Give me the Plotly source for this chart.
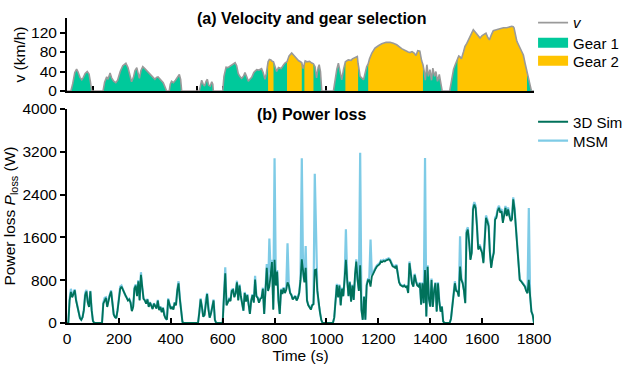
import plotly.graph_objects as go

# ---------------- data ----------------
# Vehicle speed profile (km/h) at breakpoint times (s)
vel_t = [0, 15, 22, 30, 37, 42, 50, 57, 63, 70, 78, 85, 90, 95,
         139, 145, 153, 158, 166, 172, 180, 188, 195, 205, 215, 227, 235, 242, 249, 256,
         262, 269, 275, 279, 285, 292, 300, 308, 314, 322, 330, 339, 345, 351, 358, 365,
         371, 378, 384,
         394, 398, 403, 410, 418, 425, 433, 438, 442,
         510, 514, 519, 525, 530, 536, 541, 546, 552, 558, 562, 564,
         600, 605, 613, 620, 630, 640, 648, 654, 660, 666, 673, 680, 686, 692, 699, 705,
         712, 720, 731, 740, 750, 756, 763, 768, 775, 780, 786, 791, 796, 802, 808, 815,
         825, 835, 841, 848, 856, 866, 875, 885, 893, 900, 905, 910, 915, 918, 925, 935,
         942, 950, 956, 962, 968, 972, 977, 982,
         1027, 1034, 1040, 1046, 1052, 1059, 1066, 1073, 1084, 1095, 1100, 1110, 1119, 1122,
         1130, 1143, 1150, 1155, 1161, 1166, 1175, 1187, 1200, 1213, 1230, 1245, 1258, 1271,
         1290, 1303, 1315, 1322, 1330, 1338, 1345, 1352, 1360, 1367, 1372, 1377, 1381, 1387,
         1393, 1399, 1405, 1410, 1417, 1422, 1428, 1435, 1441, 1446,
         1475, 1482, 1490, 1497, 1505, 1510, 1515, 1520, 1528, 1534, 1541, 1554, 1566, 1575,
         1585, 1592, 1600, 1607, 1615, 1622, 1628, 1636, 1643, 1655, 1669, 1682, 1695, 1705,
         1714, 1720, 1723, 1734, 1746, 1759, 1766, 1773, 1778, 1785, 1790, 1800]
vel_kmh = [0, 0, 15, 38, 45, 40, 28, 23, 28, 36, 40, 35, 20, 0,
           0, 18, 29, 24, 37, 27, 20, 17, 22, 40, 52, 57, 48, 30, 19, 28,
           42, 48, 35, 26, 42, 50, 46, 42, 38, 34, 29, 24, 28, 29, 25, 22,
           17, 8, 0,
           0, 14, 20, 17, 22, 27, 34, 24, 0,
           0, 14, 22, 14, 10, 20, 24, 12, 10, 19, 14, 0,
           0, 30, 49, 48, 51, 55, 58, 52, 36, 30, 26, 30, 38, 30, 20, 24,
           28, 38, 44, 43, 46, 38, 24, 35, 60, 65, 64, 61, 60, 50, 40, 48,
           46, 54, 58, 60, 72, 78, 72, 66, 62, 60, 58, 46, 56, 62, 60, 61,
           58, 56, 50, 27, 48, 54, 40, 0,
           0, 30, 45, 57, 40, 23, 45, 60, 64, 63, 66, 68, 71, 56,
           30, 23, 40, 50, 56, 66, 78, 88, 93, 97, 100, 100, 98, 95,
           87, 83, 80, 79, 81, 78, 73, 83, 82, 62, 54, 40, 22, 54,
           30, 44, 22, 47, 30, 40, 20, 34, 12, 0,
           0, 25, 45, 55, 68, 72, 70, 66, 80, 92, 98, 112, 126, 120,
           112, 109, 114, 116, 119, 110, 105, 116, 124, 126, 128, 130, 130, 131,
           133, 132, 130, 102, 88, 74, 56, 37, 26, 12, 0, 0]

# Periods driven in gear 2 (s); the rest of the driving is in gear 1
gear2_start = [775, 848, 915, 1073, 1161, 1505]
gear2_end = [796, 905, 950, 1122, 1372, 1773]

# Power loss (W), sampled every 5 s from 0 to 1800 s
time_s = list(range(0, 1801, 5))
sim_loss = [
    0, 0, 420, 580, 480, 540, 610, 420, 300, 200, 90, 60, 110, 240, 520, 590, 380, 300, 590, 240,
    40, 0, 0, 0, 0, 0, 0, 0, 360, 430, 470, 300, 430, 520, 590, 380, 160, 110, 90, 240,
    520, 640, 680, 620, 560, 500, 470, 420, 440, 380, 220, 300, 640, 700, 500, 780, 420, 900, 640, 450,
    420, 360, 440, 300, 380, 330, 260, 360, 300, 270, 420, 240, 300, 200, 280, 140, 90, 60, 440, 340,
    260, 300, 250, 380, 330, 600, 740, 450, 200, 20, 0, 0, 0, 0, 0, 0, 0, 0, 0, 0,
    0, 0, 200, 440, 300, 120, 150, 420, 540, 250, 100, 180, 300, 420, 60, 0, 0, 0, 0, 0,
    0, 500, 930, 330, 380, 440, 410, 600, 620, 480, 560, 760, 420, 700, 500, 380, 230, 560, 400, 520,
    330, 170, 420, 520, 380, 810, 500, 470, 380, 450, 470, 640, 170, 520, 1030, 600, 680, 900, 1140, 250,
    1180, 700, 960, 420, 170, 620, 540, 650, 560, 620, 760, 700, 560, 520, 440, 470, 500, 420, 470, 560,
    800, 1190, 900, 760, 1030, 420, 330, 300, 250, 330, 350, 990, 1000, 600, 350, 200, 60, 0, 0, 0,
    0, 0, 0, 0, 0, 0, 100, 500, 710, 480, 700, 330, 640, 500, 780, 1180, 800, 500, 760, 400,
    700, 430, 900, 1150, 800, 600, 1080, 240, 60, 490, 60, 700, 800, 800, 680, 870, 920, 990, 1020, 1060,
    1086, 1100, 1150, 1140, 1160, 1150, 1170, 1180, 1190, 1170, 1120, 1060, 1050, 1030, 1070, 900, 760, 710, 700, 680,
    700, 670, 680, 560, 1118, 900, 740, 680, 900, 780, 700, 680, 740, 340, 740, 370, 990, 120, 1050, 450,
    306, 805, 300, 600, 743, 212, 743, 400, 212, 306, 30, 0, 0, 0, 0, 0, 80, 300, 400, 743,
    600, 587, 493, 1055, 805, 743, 600, 369, 1685, 1748, 1500, 1180, 1311, 2122, 2216, 2150, 1810, 1373, 1436, 1380,
    1311, 1118, 1555, 1966, 1900, 1810, 1311, 1030, 1200, 1311, 1935, 1966, 2100, 2153, 2060, 2091, 1873, 2000, 2153, 1998,
    2122, 2000, 1904, 1935, 2310, 2122, 1800, 1555, 1249, 805, 780, 740, 712, 680, 600, 556, 805, 493, 212, 150,
    0]
msm_loss = [
    0, 0, 440, 640, 500, 560, 630, 440, 310, 210, 90, 60, 110, 250, 560, 620, 400, 310, 600, 250,
    40, 0, 0, 0, 0, 0, 0, 0, 380, 470, 480, 310, 450, 540, 610, 390, 170, 110, 90, 250,
    540, 680, 700, 630, 570, 510, 480, 430, 450, 390, 230, 310, 660, 720, 510, 800, 430, 950, 660, 460,
    430, 370, 450, 310, 390, 340, 270, 370, 310, 280, 430, 250, 310, 210, 290, 150, 90, 60, 460, 350,
    270, 310, 260, 390, 340, 620, 780, 460, 210, 20, 0, 0, 0, 0, 0, 0, 0, 0, 0, 0,
    0, 0, 210, 460, 310, 120, 150, 440, 560, 260, 100, 180, 310, 440, 60, 0, 0, 0, 0, 0,
    0, 520, 1040, 340, 390, 450, 420, 620, 640, 490, 570, 790, 430, 720, 510, 390, 230, 580, 410, 540,
    340, 170, 430, 540, 390, 880, 510, 480, 390, 460, 480, 660, 170, 540, 1100, 620, 1580, 940, 1180, 260,
    3080, 720, 990, 430, 170, 640, 550, 670, 570, 640, 1490, 720, 570, 530, 450, 480, 510, 430, 480, 570,
    820, 3080, 920, 780, 1440, 430, 340, 310, 260, 340, 360, 2790, 1310, 610, 360, 200, 60, 0, 0, 0,
    0, 0, 0, 0, 0, 0, 100, 520, 730, 490, 720, 340, 660, 510, 800, 1750, 820, 510, 780, 410,
    720, 440, 930, 1190, 820, 610, 3180, 250, 60, 500, 60, 720, 820, 820, 1560, 890, 940, 1010, 1040, 1080,
    1100, 1120, 1170, 1160, 1180, 1170, 1190, 1200, 1210, 1190, 1140, 1080, 1070, 1050, 1090, 920, 770, 720, 710, 690,
    710, 680, 690, 570, 1150, 920, 750, 690, 920, 800, 710, 690, 760, 350, 760, 380, 3085, 120, 1080, 460,
    310, 830, 310, 620, 760, 220, 760, 410, 220, 310, 30, 0, 0, 0, 0, 0, 80, 310, 420, 780,
    620, 600, 500, 1620, 830, 760, 610, 380, 1730, 1790, 1530, 1200, 1340, 2170, 2260, 2190, 1850, 1400, 1470, 1410,
    1340, 1140, 1590, 2010, 1940, 1850, 1340, 1050, 1220, 1340, 1970, 2000, 2140, 2190, 2100, 2130, 1910, 2040, 2190, 2040,
    2160, 2040, 1940, 1970, 2350, 2160, 1840, 1590, 1270, 820, 790, 750, 720, 690, 610, 560, 2150, 500, 220, 150,
    0]

vel_ticks = [0, 40, 80, 120]
loss_ticks = [0, 800, 1600, 2400, 3200, 4000]
time_ticks = list(range(0, 1801, 200))
time_minor = list(range(0, 1801, 100))

# ---------------- style ----------------
FONT = "Liberation Sans, Arial, Helvetica, sans-serif"
C_GEAR1 = "#00C99B"
C_GEAR2 = "#FFC400"
C_V = "#9A9A9A"
C_SIM = "#00715A"
C_MSM = "#7ECBE6"

# gear-2 patches: one closed polygon per period, separated by gaps
g2x, g2y = [], []
for s, e in zip(gear2_start, gear2_end):
    i0, i1 = vel_t.index(s), vel_t.index(e)
    g2x += [s] + vel_t[i0:i1 + 1] + [e, None]
    g2y += [0] + vel_kmh[i0:i1 + 1] + [0, None]

fig = go.Figure()
fig.add_trace(go.Scatter(x=vel_t, y=vel_kmh, xaxis="x2", yaxis="y2", mode="lines",
                         fill="tozeroy", fillcolor=C_GEAR1, line=dict(width=0, color=C_GEAR1),
                         showlegend=False, hoverinfo="skip"))
fig.add_trace(go.Scatter(x=g2x, y=g2y, xaxis="x2", yaxis="y2", mode="lines",
                         fill="toself", fillcolor=C_GEAR2, line=dict(width=0, color=C_GEAR2),
                         showlegend=False, hoverinfo="skip"))
fig.add_trace(go.Scatter(x=vel_t, y=vel_kmh, xaxis="x2", yaxis="y2", mode="lines",
                         line=dict(color=C_V, width=1.6), name="<i>v</i>", legend="legend"))
# legend keys for the two gear areas (solid blocks)
fig.add_trace(go.Scatter(x=[None], y=[None], xaxis="x2", yaxis="y2", mode="lines",
                         line=dict(color=C_GEAR1, width=11), name="Gear 1", legend="legend3"))
fig.add_trace(go.Scatter(x=[None], y=[None], xaxis="x2", yaxis="y2", mode="lines",
                         line=dict(color=C_GEAR2, width=11), name="Gear 2", legend="legend4"))
fig.add_trace(go.Scatter(x=time_s, y=msm_loss, mode="lines",
                         line=dict(color=C_MSM, width=2.2), name="MSM", legend="legend5"))
fig.add_trace(go.Scatter(x=time_s, y=sim_loss, mode="lines",
                         line=dict(color=C_SIM, width=1.8), name="3D Sim", legend="legend2"))


def key(ypos):
    return dict(x=0.998, y=ypos, xanchor="left", yanchor="middle",
                bgcolor="rgba(0,0,0,0)", font=dict(size=15))


axis_common = dict(showline=True, linewidth=2, linecolor="black", showgrid=False,
                   zeroline=False, tickcolor="black", tickwidth=2, ticklen=5,
                   tickfont=dict(size=15.5), automargin=False)
TITLE_FONT = dict(size=15.5)

fig.update_layout(
    width=624, height=366,
    margin=dict(l=67, r=90, t=18, b=43, autoexpand=False),
    paper_bgcolor="white", plot_bgcolor="white",
    font=dict(family=FONT, size=15.5, color="black"),
    showlegend=True,
    legend=key(0.984), legend3=key(0.918), legend4=key(0.859),
    legend2=key(0.659), legend5=key(0.597),
    xaxis=dict(domain=[0, 1], anchor="y", range=[0, 1800], tickmode="array",
               tickvals=time_ticks, ticks="inside",
               title=dict(text="Time (s)", standoff=3, font=TITLE_FONT), **axis_common),
    yaxis=dict(domain=[0, 0.7016], anchor="x", range=[0, 4000], tickmode="array",
               tickvals=loss_ticks, ticks="outside",
               title=dict(text="Power loss <i>P</i><sub>loss</sub> (W)", standoff=3,
                          font=TITLE_FONT),
               **axis_common),
    xaxis2=dict(domain=[0, 1], anchor="y2", range=[0, 1800], matches="x",
                tickmode="array", tickvals=time_minor, ticks="inside",
                showticklabels=False, layer="below traces", **axis_common),
    yaxis2=dict(domain=[0.7607, 1], anchor="x2", range=[0, 150], tickmode="array",
                tickvals=vel_ticks, ticks="outside",
                title=dict(text="v (km/h)", standoff=2, font=TITLE_FONT), **axis_common),
    annotations=[
        dict(text="<b>(a) Velocity and gear selection</b>", xref="paper", yref="paper",
             x=0.5246, y=1.0, xanchor="center", yanchor="middle", showarrow=False,
             font=dict(size=16)),
        dict(text="<b>(b) Power loss</b>", xref="paper", yref="paper",
             x=0.5246, y=0.685, xanchor="center", yanchor="middle", showarrow=False,
             font=dict(size=16)),
    ],
)

fig.write_html("out.html")
